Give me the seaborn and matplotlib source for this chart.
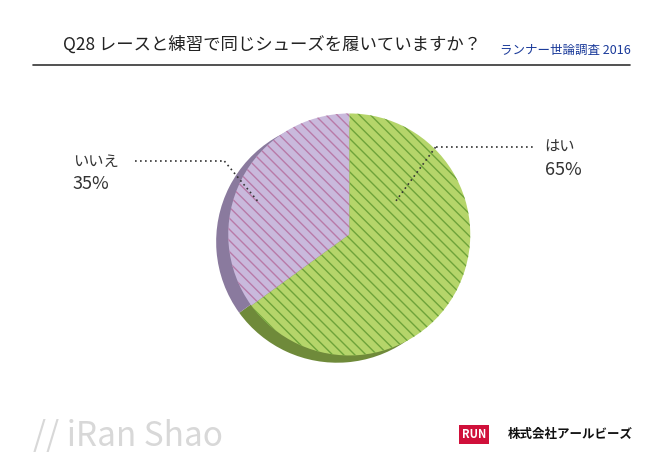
import matplotlib
matplotlib.use("Agg")
import matplotlib.pyplot as plt
import seaborn as sns

labels = ["はい", "いいえ"]
values = [65, 35]
colors = ["#b5d56a", "#c9b9dc"]
dark = ["#6f8a3a", "#8a7a9e"]
hatch_cols = ["#6ea33a", "#b87aa8"]

sns.set_theme(style="white")
plt.rcParams['font.family'] = ['Noto Sans CJK JP', 'DejaVu Sans']

fig = plt.figure(figsize=(6.6, 4.67), dpi=100)
fig.patch.set_facecolor("white")

ax = fig.add_axes([0.295, 0.20, 0.45, 0.57])
ax.axis("off")

ax.pie(values, colors=dark, startangle=90, counterclock=False,
       center=(-0.1, -0.06), radius=1.0, wedgeprops=dict(linewidth=0))
wedges, _ = ax.pie(values, colors=colors, startangle=90, counterclock=False,
                   radius=1.0, wedgeprops=dict(linewidth=0))
for w, hc in zip(wedges, hatch_cols):
    w.set_hatch("\\\\\\")
    w.set_edgecolor(hc)
    w.set_linewidth(0)
ax.set_xlim(-1.2, 1.1)
ax.set_ylim(-1.15, 1.05)

fig.text(0.095, 0.905, "Q28 レースと練習で同じシューズを履いていますか？", fontsize=12.5, color="#222222", va="center")
fig.lines.append(plt.Line2D([0.05, 0.955], [0.86, 0.86], transform=fig.transFigure, color="#333333", lw=1.2))
fig.text(0.955, 0.893, "ランナー世論調査 2016", fontsize=9, color="#1a3a9a", style="italic", ha="right", va="center")

fig.text(0.825, 0.685, labels[0], fontsize=11, color="#333333", ha="left", va="center")
fig.text(0.825, 0.635, f"{values[0]}%", fontsize=13, color="#333333", ha="left", va="center")
fig.lines.append(plt.Line2D([0.66, 0.81], [0.685, 0.685], transform=fig.transFigure, color="#333333", lw=1.2, ls=(0, (1, 2))))
fig.lines.append(plt.Line2D([0.60, 0.66], [0.57, 0.685], transform=fig.transFigure, color="#333333", lw=1.2, ls=(0, (1, 2))))

fig.text(0.11, 0.655, labels[1], fontsize=11, color="#333333", ha="left", va="center")
fig.text(0.11, 0.605, f"{values[1]}%", fontsize=13, color="#333333", ha="left", va="center")
fig.lines.append(plt.Line2D([0.205, 0.34], [0.655, 0.655], transform=fig.transFigure, color="#333333", lw=1.2, ls=(0, (1, 2))))
fig.lines.append(plt.Line2D([0.34, 0.39], [0.655, 0.57], transform=fig.transFigure, color="#333333", lw=1.2, ls=(0, (1, 2))))

fig.text(0.05, 0.065, "// iRan Shao", fontsize=24, color="#d8d8d8", ha="left", va="center")
fig.text(0.77, 0.07, "株式会社アールビーズ", fontsize=9, color="#111111", weight="bold", ha="left", va="center")
fig.text(0.70, 0.07, "RUN", fontsize=8, color="white", weight="bold", ha="left", va="center",
         bbox=dict(facecolor="#d0103a", edgecolor="none", pad=2))

fig.savefig("out.png", dpi=100, facecolor="white")
